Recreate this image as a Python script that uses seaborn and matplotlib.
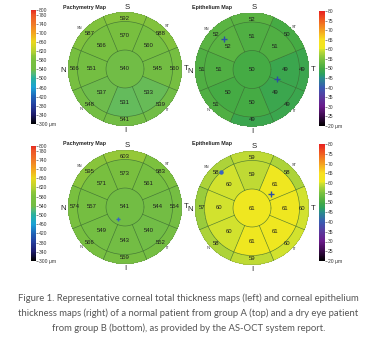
import numpy as np
import matplotlib
matplotlib.use("Agg")
import matplotlib.pyplot as plt
from matplotlib.colors import LinearSegmentedColormap
import seaborn as sns

sns.set_theme(style="white")
plt.rcParams["font.family"] = ["Liberation Sans", "DejaVu Sans"]

# Sector order, clockwise from superior
sectors = ["S", "ST", "T", "IT", "I", "IN", "N", "SN"]
sector_angles = [90, 45, 0, -45, -90, -135, 180, 135]

# Zone diameters (mm): central, paracentral, mid-peripheral
zone_diameters_mm = [2, 5, 6]

# Patient from group A (normal)
pachy_a_center = 540
pachy_a_inner = [570, 560, 545, 533, 531, 537, 551, 566]
pachy_a_outer = [592, 588, 560, 539, 541, 548, 566, 587]
epi_a_center = 50
epi_a_inner = [51, 51, 49, 49, 50, 50, 51, 52]
epi_a_outer = [52, 50, 49, 49, 49, 51, 51, 52]

# Patient from group B (dry eye)
pachy_b_center = 541
pachy_b_inner = [573, 561, 544, 540, 543, 549, 557, 571]
pachy_b_outer = [603, 583, 554, 552, 559, 566, 574, 595]
epi_b_center = 61
epi_b_inner = [59, 61, 61, 61, 61, 60, 60, 60]
epi_b_outer = [59, 58, 60, 60, 59, 58, 57, 58]

# Min / max thickness locations (normalised map radius units)
epi_a_extrema = [(-0.50, 0.54), (0.43, -0.17)]
pachy_b_extrema = [(-0.12, -0.21)]
epi_b_extrema = [(-0.54, 0.63), (0.33, 0.25)]

pachy_ticks = [300, 340, 380, 420, 460, 500, 540, 580, 620, 660, 700, 740, 780, 800]
pachy_labels = ["300 μm"] + [str(t) for t in pachy_ticks[1:]]
epi_ticks = [20, 25, 30, 35, 40, 45, 50, 55, 60, 65, 70, 75, 80]
epi_labels = ["20 μm"] + [str(t) for t in epi_ticks[1:]]

pachy_cmap = LinearSegmentedColormap.from_list("pachy", [
    (0.00, "#000000"), (0.08, "#1c1a6a"), (0.16, "#243c9c"), (0.24, "#1f64b8"),
    (0.32, "#1aa2d6"), (0.40, "#28b0a0"), (0.44, "#52b87c"), (0.48, "#72bd44"),
    (0.56, "#7ac03e"), (0.60, "#8cc53a"), (0.63, "#b0d034"), (0.72, "#ead81e"),
    (0.80, "#f4a41e"), (0.88, "#f07828"), (0.96, "#ee5528"), (1.00, "#e42a20")])
epi_cmap = LinearSegmentedColormap.from_list("epi", [
    (0.000, "#000000"), (0.083, "#3a0a4a"), (0.167, "#6a1a8a"), (0.250, "#5a3a9e"),
    (0.333, "#3a5ab2"), (0.417, "#2a8c8c"), (0.450, "#2aa060"), (0.500, "#44aa44"),
    (0.583, "#7cc240"), (0.633, "#aad23a"), (0.667, "#d2e22e"), (0.675, "#eee820"),
    (0.750, "#f8e020"), (0.833, "#f4a020"), (0.917, "#f06020"), (1.000, "#e82020")])

W, H = 377, 338
fig = plt.figure(figsize=(W / 100, H / 100), dpi=100)
fig.patch.set_facecolor("white")


def box(x0, y0, w, h):
    return [x0 / W, 1 - (y0 + h) / H, w / W, h / H]


N = 241
g = (np.arange(N) + 0.5) / N * 2 - 1
X, Y = np.meshgrid(g, -g)
R = np.hypot(X, Y)
TH = np.degrees(np.arctan2(Y, X))
SECTOR = np.round((90 - TH) / 45).astype(int) % 8
r_center = zone_diameters_mm[0] / zone_diameters_mm[2]
r_mid = zone_diameters_mm[1] / zone_diameters_mm[2]


def to_cell(x, y):
    return (x + 1) / 2 * N, (1 - y) / 2 * N


def draw_map(ax_box, cb_box, center, inner, outer, cmap, vmin, vmax,
             ticks, labels, title, title_xy, extrema, marker_styles):
    inner = np.asarray(inner, float)
    outer = np.asarray(outer, float)
    grid = np.where(R < r_center, center,
                    np.where(R < r_mid, inner[SECTOR], outer[SECTOR])).astype(float)
    grid[R > 1] = np.nan

    ax = fig.add_axes(box(*ax_box))
    cax = fig.add_axes(box(*cb_box))
    sns.heatmap(grid, ax=ax, cbar_ax=cax, cmap=cmap, vmin=vmin, vmax=vmax,
                xticklabels=False, yticklabels=False, rasterized=True,
                cbar_kws={"ticks": ticks})
    ax.set_aspect("equal")
    ax.axis("off")

    cbar = ax.collections[0].colorbar
    cbar.set_ticks(ticks)
    cbar.set_ticklabels(labels)
    cbar.outline.set_visible(False)
    cax.tick_params(labelsize=3.6, length=1.6, width=0.4, pad=0.6,
                    colors="#333333", right=True)

    line_kw = dict(color="#3b6a33", lw=0.45, alpha=0.85)
    t = np.linspace(0, 2 * np.pi, 300)
    for r in (r_center, r_mid):
        cx, cy = to_cell(r * np.cos(t), r * np.sin(t))
        ax.plot(cx, cy, **line_kw)
    cx, cy = to_cell(0.995 * np.cos(t), 0.995 * np.sin(t))
    ax.plot(cx, cy, color="#6a8a5a", lw=0.4, alpha=0.5)
    for a in np.radians(np.arange(22.5, 360, 45)):
        cx, cy = to_cell(np.array([r_center, 1.0]) * np.cos(a),
                         np.array([r_center, 1.0]) * np.sin(a))
        ax.plot(cx, cy, **line_kw)

    txt = dict(ha="center", va="center", fontsize=4.3, color="#1e1e1e")
    ax.text(*to_cell(0, 0), str(center), **txt)
    for k, ang in enumerate(np.radians(sector_angles)):
        ax.text(*to_cell(0.58 * np.cos(ang), 0.58 * np.sin(ang)), str(int(inner[k])), **txt)
        ax.text(*to_cell(0.88 * np.cos(ang), 0.88 * np.sin(ang)), str(int(outer[k])), **txt)

    small = dict(ha="center", va="center", fontsize=2.8, color="#333333", clip_on=False)
    for name, ang, rr in (("ST", 45, 1.06), ("SN", 138, 1.07), ("IN", 223, 1.04), ("IT", 316, 1.04)):
        a = np.radians(ang)
        ax.text(*to_cell(rr * np.cos(a), rr * np.sin(a)), name, **small)
    big = dict(ha="center", va="center", fontsize=5.6, color="#222222", clip_on=False)
    ax.text(*to_cell(0.04, 1.08), "S", **big)
    ax.text(*to_cell(0.0, -1.08), "I", **big)
    ax.text(*to_cell(-1.09, -0.03), "N", **big)
    ax.text(*to_cell(1.07, 0.0), "T", **big)

    for (mx, my), (mk, ms, mc) in zip(extrema, marker_styles):
        ax.plot(*to_cell(mx, my), marker=mk, ms=ms, mec=mc, mfc=mc, mew=1.0)

    fig.text(title_xy[0] / W, 1 - title_xy[1] / H, title, fontsize=3.9,
             fontweight="bold", color="#222222", ha="left", va="center")


draw_map((68, 12, 114, 114), (31, 10, 5, 114), pachy_a_center, pachy_a_inner,
         pachy_a_outer, pachy_cmap, 300, 800, pachy_ticks, pachy_labels,
         "Pachymetry Map", (63, 8), [], [])
draw_map((195, 12.5, 114, 114), (319, 11, 6, 115), epi_a_center, epi_a_inner,
         epi_a_outer, epi_cmap, 20, 80, epi_ticks, epi_labels,
         "Epithelium Map", (192, 8), epi_a_extrema,
         [("+", 5, "#2c4ea6"), ("+", 5, "#2c4ea6")])
draw_map((68, 150, 114, 114), (31, 146, 5, 115), pachy_b_center, pachy_b_inner,
         pachy_b_outer, pachy_cmap, 300, 800, pachy_ticks, pachy_labels,
         "Pachymetry Map", (63, 144), pachy_b_extrema, [("+", 2.5, "#3a64c0")])
draw_map((195, 151, 114, 114), (319, 144, 6, 117), epi_b_center, epi_b_inner,
         epi_b_outer, epi_cmap, 20, 80, epi_ticks, epi_labels,
         "Epithelium Map", (192, 143), epi_b_extrema,
         [("o", 2.2, "#3a64c0"), ("+", 5, "#2c4ea6")])

caption = [
    "Figure 1. Representative corneal total thickness maps (left) and corneal epithelium",
    "thickness maps (right) of a normal patient from group A (top) and a dry eye patient",
    "from group B (bottom), as provided by the AS-OCT system report.",
]
for i, line in enumerate(caption):
    fig.text(188.5 / W, 1 - (298 + 15 * i) / H, line, ha="center", va="center",
             fontsize=6.8, color="#555555", family=["Lato", "DejaVu Sans"])

fig.savefig("out.png", dpi=100, facecolor="white")
